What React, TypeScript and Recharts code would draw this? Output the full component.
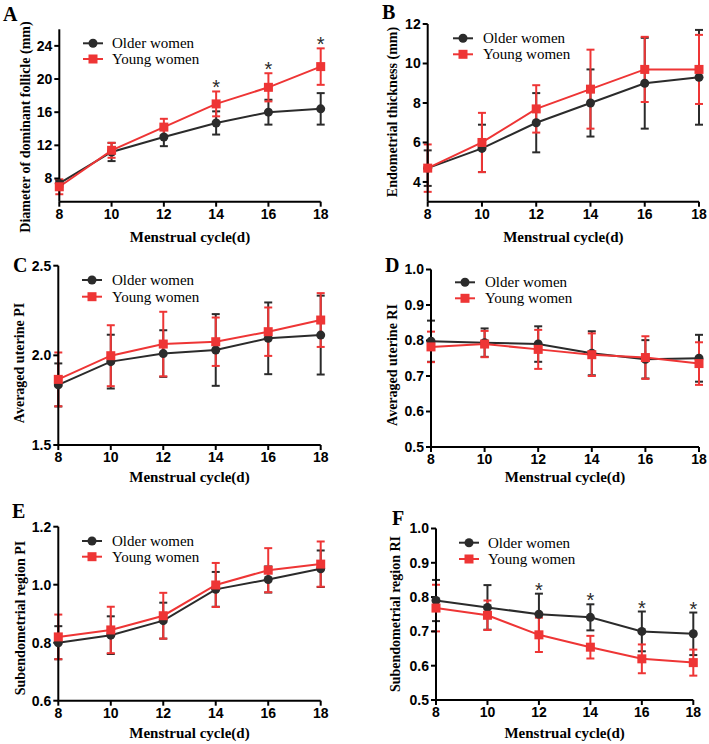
import React from "react";
import { ComposedChart, Line, XAxis, YAxis, ErrorBar } from "recharts";

const days = [8, 10, 12, 14, 16, 18];
const seriesNames = ["Older women", "Young women"];
const xTitle = "Menstrual cycle(d)";

// A - dominant follicle
const follicleOlder = [7.4, 11.2, 13.0, 14.7, 16.0, 16.4];
const follicleOlderSd = [0.4, 1.1, 1.1, 1.4, 1.5, 1.9];
const follicleYoung = [7.0, 11.4, 14.2, 17.0, 19.0, 21.5];
const follicleYoungSd = [0.9, 0.9, 1.0, 1.5, 1.7, 2.2];
const follicleStars = [false, false, false, true, true, true];

// B - endometrial thickness
const thickOlder = [4.7, 5.7, 7.0, 8.0, 9.0, 9.3];
const thickOlderSd = [0.9, 1.2, 1.5, 1.7, 2.3, 2.4];
const thickYoung = [4.7, 6.0, 7.7, 8.7, 9.7, 9.7];
const thickYoungSd = [1.2, 1.5, 1.2, 2.0, 1.65, 1.75];

// C - averaged uterine PI
const uPiOlder = [1.835, 1.965, 2.01, 2.03, 2.095, 2.113];
const uPiOlderSd = [0.12, 0.15, 0.13, 0.2, 0.2, 0.22];
const uPiYoung = [1.866, 1.998, 2.063, 2.076, 2.132, 2.197];
const uPiYoungSd = [0.15, 0.17, 0.18, 0.135, 0.135, 0.15];

// D - averaged uterine RI
const uRiOlder = [0.798, 0.794, 0.79, 0.764, 0.747, 0.75];
const uRiOlderSd = [0.058, 0.04, 0.05, 0.062, 0.054, 0.066];
const uRiYoung = [0.782, 0.79, 0.775, 0.76, 0.752, 0.735];
const uRiYoungSd = [0.043, 0.037, 0.055, 0.06, 0.06, 0.06];

// E - subendometrial PI
const sPiOlder = [0.8, 0.826, 0.876, 0.984, 1.018, 1.055];
const sPiOlderSd = [0.057, 0.065, 0.062, 0.06, 0.045, 0.063];
const sPiYoung = [0.82, 0.844, 0.893, 0.999, 1.05, 1.071];
const sPiYoungSd = [0.077, 0.08, 0.079, 0.076, 0.076, 0.078];

// F - subendometrial RI
const sRiOlder = [0.79, 0.77, 0.75, 0.741, 0.7, 0.693];
const sRiOlderSd = [0.06, 0.065, 0.06, 0.038, 0.058, 0.062];
const sRiYoung = [0.768, 0.747, 0.69, 0.654, 0.62, 0.609];
const sRiYoungSd = [0.068, 0.043, 0.05, 0.033, 0.042, 0.038];
const sRiStars = [false, false, true, true, true, true];

const noStars = [false, false, false, false, false, false];

const BLACK = "#2b2b2b";
const RED = "#ee3535";
const SERIF = "'Liberation Serif', 'Times New Roman', serif";
const SANS = "'Liberation Sans', Arial, sans-serif";

type PanelDef = {
  letter: string;
  yTitle: string;
  older: number[];
  olderSd: number[];
  young: number[];
  youngSd: number[];
  stars: boolean[];
  starOn: "older" | "young";
  domain: [number, number];
  ticks: number[];
  decimals: number;
  origin: [number, number];
  size: [number, number];
  plot: [number, number, number, number]; // x0, x1, y0, y1 on page
  letterAt: [number, number];
  yTitleAt: [number, number];
  xTitleY: number;
  legend: [number, number, number, number]; // line x, text x, row1 y, row2 y
};

const panels: PanelDef[] = [
  {
    letter: "A",
    yTitle: "Diameter of dominant follicle (mm)",
    older: follicleOlder,
    olderSd: follicleOlderSd,
    young: follicleYoung,
    youngSd: follicleYoungSd,
    stars: follicleStars,
    starOn: "young",
    domain: [5.2, 26],
    ticks: [8, 12, 16, 20, 24],
    decimals: 0,
    origin: [0, 0],
    size: [354, 245],
    plot: [59.3, 320.7, 29.3, 201.7],
    letterAt: [3, 21],
    yTitleAt: [25.5, 127],
    xTitleY: 242,
    legend: [83, 112, 43.3, 59],
  },
  {
    letter: "B",
    yTitle: "Endometrial thickness (mm)",
    older: thickOlder,
    olderSd: thickOlderSd,
    young: thickYoung,
    youngSd: thickYoungSd,
    stars: noStars,
    starOn: "young",
    domain: [3, 12],
    ticks: [4, 6, 8, 10, 12],
    decimals: 0,
    origin: [355, 0],
    size: [354, 245],
    plot: [427.7, 699, 24, 201.7],
    letterAt: [382, 18.5],
    yTitleAt: [393, 112],
    xTitleY: 242,
    legend: [453, 483, 38.3, 54.3],
  },
  {
    letter: "C",
    yTitle: "Averaged uterine PI",
    older: uPiOlder,
    olderSd: uPiOlderSd,
    young: uPiYoung,
    youngSd: uPiYoungSd,
    stars: noStars,
    starOn: "young",
    domain: [1.5, 2.5],
    ticks: [1.5, 2.0, 2.5],
    decimals: 1,
    origin: [0, 245],
    size: [354, 245],
    plot: [58.3, 320.7, 265.7, 445],
    letterAt: [13, 272],
    yTitleAt: [20, 363],
    xTitleY: 482,
    legend: [82, 112, 280, 296.7],
  },
  {
    letter: "D",
    yTitle: "Averaged uterine RI",
    older: uRiOlder,
    olderSd: uRiOlderSd,
    young: uRiYoung,
    youngSd: uRiYoungSd,
    stars: noStars,
    starOn: "young",
    domain: [0.5, 1.0],
    ticks: [0.5, 0.6, 0.7, 0.8, 0.9, 1.0],
    decimals: 1,
    origin: [355, 245],
    size: [354, 245],
    plot: [431, 699, 269.5, 447],
    letterAt: [385, 272],
    yTitleAt: [393.3, 365],
    xTitleY: 482,
    legend: [455, 485, 282.3, 298.3],
  },
  {
    letter: "E",
    yTitle: "Subendometrial region PI",
    older: sPiOlder,
    olderSd: sPiOlderSd,
    young: sPiYoung,
    youngSd: sPiYoungSd,
    stars: noStars,
    starOn: "young",
    domain: [0.6, 1.2],
    ticks: [0.6, 0.8, 1.0, 1.2],
    decimals: 1,
    origin: [0, 490],
    size: [354, 254],
    plot: [58.3, 320.7, 526.7, 700.7],
    letterAt: [12, 518],
    yTitleAt: [21, 618],
    xTitleY: 738,
    legend: [82, 112, 541, 556.7],
  },
  {
    letter: "F",
    yTitle: "Subendometrial region RI",
    older: sRiOlder,
    olderSd: sRiOlderSd,
    young: sRiYoung,
    youngSd: sRiYoungSd,
    stars: sRiStars,
    starOn: "older",
    domain: [0.5, 1.0],
    ticks: [0.5, 0.6, 0.7, 0.8, 0.9, 1.0],
    decimals: 1,
    origin: [355, 490],
    size: [354, 254],
    plot: [436, 693.3, 528.5, 700],
    letterAt: [392, 525],
    yTitleAt: [396, 614],
    xTitleY: 738,
    legend: [459, 488, 542.7, 559],
  },
];

const tickStyle = { fill: "#000", fontSize: 14, fontWeight: "bold", fontFamily: SANS };
const axisStroke = { stroke: "#000", strokeWidth: 2 };

const circleDot = (props: any) => {
  const { cx, cy, index } = props;
  if (cx == null || cy == null) return <g key={`c${index}`} />;
  return <circle key={`c${index}`} cx={cx} cy={cy} r={4.5} fill={BLACK} />;
};

const squareDot = (props: any) => {
  const { cx, cy, index } = props;
  if (cx == null || cy == null) return <g key={`s${index}`} />;
  return <rect key={`s${index}`} x={cx - 4.5} y={cy - 4.5} width={9} height={9} fill={RED} />;
};

const starDot = (props: any) => {
  const { cx, cy, index } = props;
  if (cx == null || cy == null || isNaN(cy)) return <g key={`t${index}`} />;
  return (
    <text key={`t${index}`} x={cx} y={cy + 3} textAnchor="middle" fontSize={20} fontFamily={SANS} fill={BLACK}>
      *
    </text>
  );
};

const Panel = ({ p }: { p: PanelDef }) => {
  const [ox, oy] = p.origin;
  const [W, H] = p.size;
  const [x0, x1, y0, y1] = p.plot;
  const yW = 40;
  const xH = 30;
  const margin = {
    left: x0 - ox - yW,
    right: ox + W - x1,
    top: y0 - oy,
    bottom: oy + H - y1 - xH,
  };
  const data = days.map((d, i) => ({
    day: d,
    older: p.older[i],
    olderSd: p.olderSd[i],
    young: p.young[i],
    youngSd: p.youngSd[i],
    star: p.stars[i]
      ? p.starOn === "young"
        ? p.young[i] + p.youngSd[i]
        : p.older[i] + p.olderSd[i]
      : null,
  }));
  return (
    <div style={{ position: "absolute", left: ox, top: oy }}>
      <ComposedChart width={W} height={H} data={data} margin={margin}>
        <XAxis
          type="number"
          dataKey="day"
          domain={[8, 18]}
          ticks={days}
          interval={0}
          height={xH}
          axisLine={axisStroke}
          tickLine={axisStroke}
          tickSize={5}
          tickMargin={2}
          tick={tickStyle}
        />
        <YAxis
          type="number"
          domain={p.domain}
          ticks={p.ticks}
          interval={0}
          width={yW}
          axisLine={axisStroke}
          tickLine={axisStroke}
          tickSize={5}
          tickMargin={2}
          tick={tickStyle}
          tickFormatter={(v: number) => v.toFixed(p.decimals)}
        />
        <Line
          dataKey="older"
          stroke={BLACK}
          strokeWidth={2}
          dot={circleDot}
          activeDot={false}
          isAnimationActive={false}
        >
          <ErrorBar dataKey="olderSd" direction="y" width={4} stroke={BLACK} strokeWidth={2} isAnimationActive={false} />
        </Line>
        <Line
          dataKey="young"
          stroke={RED}
          strokeWidth={2}
          dot={squareDot}
          activeDot={false}
          isAnimationActive={false}
        >
          <ErrorBar dataKey="youngSd" direction="y" width={4} stroke={RED} strokeWidth={2} isAnimationActive={false} />
        </Line>
        <Line
          dataKey="star"
          stroke="none"
          strokeWidth={0}
          dot={starDot}
          activeDot={false}
          isAnimationActive={false}
        />
      </ComposedChart>
    </div>
  );
};

const Annotations = ({ p }: { p: PanelDef }) => {
  const [lx, tx, r1, r2] = p.legend;
  const xc = (p.plot[0] + p.plot[1]) / 2;
  const [yx, yy] = p.yTitleAt;
  return (
    <g>
      <text x={p.letterAt[0]} y={p.letterAt[1]} fontSize={20} fontWeight="bold" fontFamily={SERIF} fill="#000">
        {p.letter}
      </text>
      <text
        x={yx + 4}
        y={yy}
        transform={`rotate(-90 ${yx + 4} ${yy})`}
        textAnchor="middle"
        fontSize={14}
        fontWeight="bold"
        fontFamily={SERIF}
        fill="#000"
      >
        {p.yTitle}
      </text>
      <text x={xc} y={p.xTitleY} textAnchor="middle" fontSize={15} fontWeight="bold" fontFamily={SERIF} fill="#000">
        {xTitle}
      </text>
      <line x1={lx} x2={lx + 20} y1={r1} y2={r1} stroke={BLACK} strokeWidth={2} />
      <circle cx={lx + 10} cy={r1} r={4.5} fill={BLACK} />
      <text x={tx} y={r1 + 5} fontSize={15} fontFamily={SERIF} fill="#000">
        {seriesNames[0]}
      </text>
      <line x1={lx} x2={lx + 20} y1={r2} y2={r2} stroke={RED} strokeWidth={2} />
      <rect x={lx + 5.5} y={r2 - 4.5} width={9} height={9} fill={RED} />
      <text x={tx} y={r2 + 5} fontSize={15} fontFamily={SERIF} fill="#000">
        {seriesNames[1]}
      </text>
    </g>
  );
};

export default function App() {
  return (
    <div style={{ position: "absolute", left: 0, top: 0, width: 709, height: 744, background: "#fff", overflow: "hidden" }}>
      {panels.map((p) => (
        <Panel key={p.letter} p={p} />
      ))}
      <svg width={709} height={744} style={{ position: "absolute", left: 0, top: 0, pointerEvents: "none" }}>
        {panels.map((p) => (
          <Annotations key={p.letter} p={p} />
        ))}
      </svg>
    </div>
  );
}
